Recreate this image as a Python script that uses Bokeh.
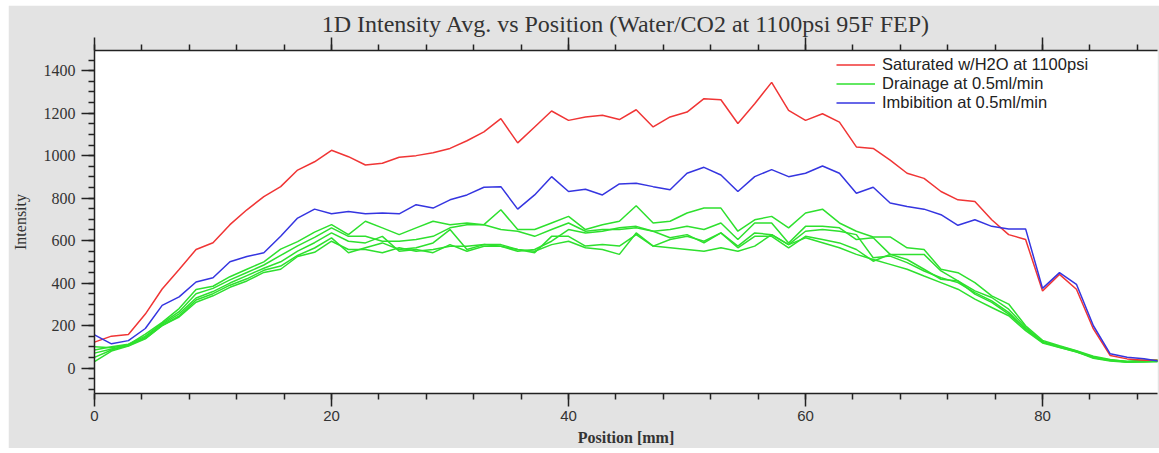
from bokeh.plotting import figure
from bokeh.models import LinearAxis, SingleIntervalTicker, Range1d, Legend, LegendItem, CustomJSTickFormatter
from bokeh.embed import file_html
from bokeh.resources import INLINE

# ---- data -------------------------------------------------------------
position_mm = [0.0, 1.43, 2.86, 4.29, 5.71, 7.14, 8.57, 10.0, 11.43, 12.86,
               14.29, 15.71, 17.14, 18.57, 20.0, 21.43, 22.86, 24.29, 25.71, 27.14,
               28.57, 30.0, 31.43, 32.86, 34.29, 35.71, 37.14, 38.57, 40.0, 41.43,
               42.86, 44.29, 45.71, 47.14, 48.57, 50.0, 51.43, 52.86, 54.29, 55.71,
               57.14, 58.57, 60.0, 61.43, 62.86, 64.29, 65.71, 67.14, 68.57, 70.0,
               71.43, 72.86, 74.29, 75.71, 77.14, 78.57, 80.0, 81.43, 82.86, 84.29,
               85.71, 87.14, 88.57, 90.0]

saturated = [122, 150, 158, 254, 372, 464, 558, 590, 675, 745, 807, 854, 932, 971,
             1025, 995, 956, 964, 992, 1000, 1014, 1034, 1070, 1112, 1174, 1060, 1135, 1210,
             1166, 1182, 1190, 1170, 1216, 1135, 1182, 1205, 1268, 1263, 1151, 1244, 1345,
             1213, 1166, 1197, 1158, 1041, 1034, 979, 917, 893, 831, 792, 784, 698, 628, 605,
             363, 441, 371, 184, 59, 43, 36, 36]

imbibition = [156, 114, 129, 186, 295, 335, 405, 425, 500, 525, 543, 620, 706, 748,
              726, 737, 726, 730, 726, 769, 753, 792, 815, 851, 854, 748, 815, 901,
              831, 842, 815, 867, 870, 854, 839, 917, 945, 909, 831, 901, 934,
              901, 917, 951, 917, 823, 851, 777, 761, 748, 722, 672, 698, 667, 655, 655,
              375, 449, 394, 199, 67, 51, 44, 31]

drainage_1 = [100, 95, 110, 160, 215, 280, 370, 385, 430, 465, 500, 560, 595, 640,
              675, 628, 691, 660, 628, 660, 691, 675, 683, 675, 745, 652, 652, 683, 714,
              652, 675, 691, 764, 683, 691, 730, 753, 753, 644, 698, 714, 660, 730,
              748, 683, 644, 617, 617, 566, 558, 465, 449, 402, 340, 301, 199,
              130, 105, 82, 55, 40, 30, 35, 38]
drainage_2 = [85, 100, 112, 150, 210, 265, 350, 375, 415, 450, 485, 530, 575, 615,
              660, 620, 620, 597, 597, 605, 620, 660, 675, 675, 652, 644, 620, 652, 683,
              644, 652, 652, 660, 644, 652, 667, 652, 683, 605, 683, 683, 589, 667,
              667, 660, 605, 613, 535, 535, 535, 457, 410, 363, 332, 277, 192,
              125, 100, 78, 52, 38, 32, 36, 35]
drainage_3 = [70, 90, 105, 145, 205, 255, 330, 360, 400, 435, 470, 500, 550, 590,
              636, 597, 589, 620, 550, 558, 543, 581, 550, 573, 573, 550, 558, 597, 652,
              636, 644, 660, 667, 644, 613, 628, 589, 636, 574, 636, 628, 581, 644,
              652, 644, 628, 519, 527, 496, 457, 425, 402, 355, 316, 262, 184,
              122, 98, 75, 50, 36, 28, 33, 32]
drainage_4 = [50, 85, 108, 140, 200, 245, 320, 350, 390, 420, 460, 480, 530, 565,
              613, 543, 566, 589, 558, 566, 589, 652, 558, 581, 581, 558, 543, 620, 620,
              574, 581, 574, 628, 574, 605, 620, 597, 636, 566, 620, 620, 566, 620,
              605, 589, 558, 503, 535, 511, 465, 418, 410, 348, 309, 254, 184,
              120, 102, 80, 48, 35, 30, 30, 34]
drainage_5 = [30, 80, 103, 137, 200, 240, 310, 340, 380, 410, 450, 465, 525, 545,
              597, 558, 558, 543, 566, 550, 558, 573, 573, 581, 573, 558, 550, 581, 597,
              566, 558, 535, 636, 574, 566, 558, 550, 566, 550, 574, 628, 581, 613,
              590, 566, 535, 511, 488, 465, 433, 402, 371, 324, 285, 246, 176,
              118, 96, 76, 46, 33, 27, 28, 30]
drainage = [drainage_1, drainage_2, drainage_3, drainage_4, drainage_5]

labels = ["Saturated w/H2O at 1100psi", "Drainage at 0.5ml/min", "Imbibition at 0.5ml/min"]
title_text = "1D Intensity Avg. vs Position (Water/CO2 at 1100psi 95F FEP)"

# ---- styles ------------------------------------------------------------
RED = "#f03535"
GREEN = "#2ee02e"
BLUE = "#3535e0"
GRAY = "#e3e3e3"
SERIF = "Liberation Serif"
SANS = "Liberation Sans"

p = figure(width=1151, height=443, margin=(5, 0, 5, 8),
           x_range=Range1d(0, 89.7), y_range=Range1d(-120, 1495),
           output_backend="svg", toolbar_location=None,
           x_axis_location=None, y_axis_location=None,
           min_border_left=86, min_border_right=2, min_border_top=45, min_border_bottom=53,
           background_fill_color="white", border_fill_color=GRAY,
           outline_line_color=None)
p.grid.visible = False

p.title.text = title_text
p.title.text_font = SERIF
p.title.text_font_size = "24px"
p.title.text_font_style = "normal"
p.title.text_color = "#333333"
p.title.align = "center"
p.title.standoff = 1

xt = SingleIntervalTicker(interval=20, num_minor_ticks=5)
yt = SingleIntervalTicker(interval=200, num_minor_ticks=4)

def style_axis(ax):
    ax.axis_line_color = "#222222"
    ax.axis_line_width = 1.5
    ax.major_tick_line_color = "#222222"
    ax.minor_tick_line_color = "#222222"
    ax.major_tick_line_width = 1.5
    ax.minor_tick_line_width = 1.5
    ax.major_tick_in = 0
    ax.minor_tick_in = 0
    ax.major_tick_out = 13
    ax.minor_tick_out = 6
    ax.major_label_text_color = "#333333"
    ax.axis_label_text_color = "#333333"

xb = LinearAxis(ticker=xt, axis_label="Position [mm]")
style_axis(xb)
xb.major_label_text_font = SANS
xb.major_label_text_font_size = "15px"
xb.major_label_standoff = 4
xb.axis_label_text_font = SERIF
xb.axis_label_text_font_size = "16px"
xb.axis_label_text_font_style = "bold"
xb.axis_label_standoff = 5
p.add_layout(xb, "below")

xa = LinearAxis(ticker=xt, formatter=CustomJSTickFormatter(code="return ''"))
style_axis(xa)
xa.major_label_standoff = 0
xa.major_label_text_font_size = "1px"
p.add_layout(xa, "above")

yl = LinearAxis(ticker=yt, axis_label="Intensity")
style_axis(yl)
yl.major_label_text_font = SERIF
yl.major_label_text_font_size = "16px"
yl.major_label_standoff = 6
yl.axis_label_text_font = SERIF
yl.axis_label_text_font_size = "16px"
yl.axis_label_text_font_style = "normal"
yl.axis_label_standoff = 12
p.add_layout(yl, "left")

green_renderers = []
for series in drainage:
    r = p.line(position_mm, series, line_color=GREEN, line_width=1.5)
    green_renderers.append(r)
r_red = p.line(position_mm, saturated, line_color=RED, line_width=1.5)
r_blue = p.line(position_mm, imbibition, line_color=BLUE, line_width=1.5)

legend = Legend(items=[LegendItem(label=labels[0], renderers=[r_red]),
                       LegendItem(label=labels[1], renderers=[green_renderers[0]]),
                       LegendItem(label=labels[2], renderers=[r_blue])],
                location=(742, 281), padding=0, spacing=0, margin=0,
                glyph_width=39, glyph_height=19, label_height=19, label_standoff=7,
                label_text_font=SANS, label_text_font_size="16.5px",
                label_text_color="#222222",
                background_fill_alpha=0, border_line_alpha=0)
p.add_layout(legend, "center")

open("out.html", "w").write(file_html(p, INLINE))
